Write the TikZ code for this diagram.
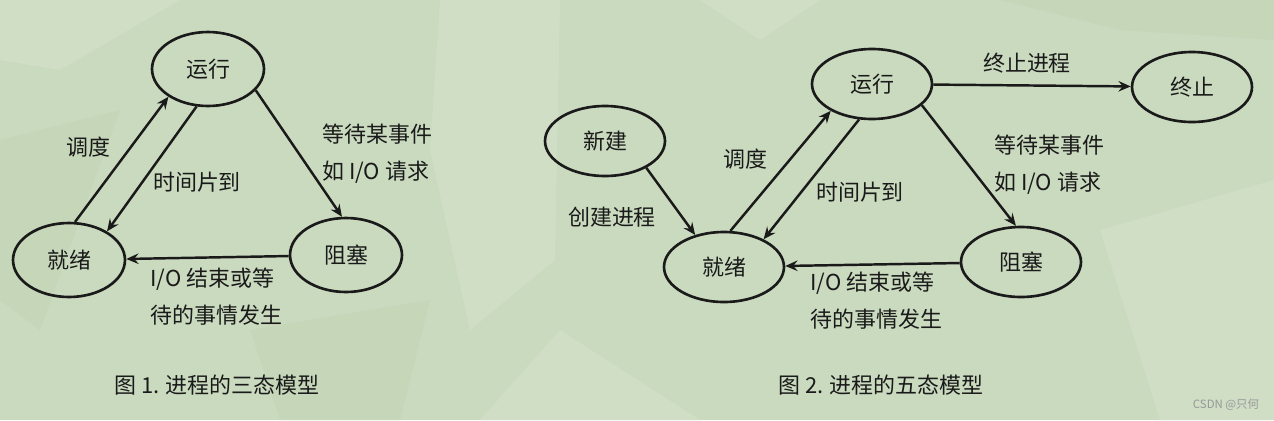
\documentclass[tikz,border=0pt]{standalone}
\usepackage{fontspec}
\setmainfont{Noto Sans CJK SC}
\usetikzlibrary{shapes.geometric,arrows.meta}

\definecolor{bgbase}{HTML}{CADABF}
\definecolor{bglight}{HTML}{CFDEC5}
\definecolor{bgdark}{HTML}{C5D6B9}
\definecolor{ink}{HTML}{1A1A1A}

\begin{document}
\begin{tikzpicture}[x=0.02cm, y=-0.02cm,
    every node/.style={text=ink, font=\fontsize{12.5}{21}\selectfont},
    stateA/.style={draw=ink, ellipse, line width=1.5pt, inner sep=0pt, minimum width=2.24cm, minimum height=1.48cm},
    stateB/.style={draw=ink, ellipse, line width=1.5pt, inner sep=0pt, minimum width=2.4cm, minimum height=1.4cm},
    arr/.style={draw=ink, line width=1.4pt, -{Stealth[length=7pt,width=6pt,inset=2.5pt]}},
    lab/.style={align=left, anchor=west}]
    \fill[bgbase] (0,0) rectangle (1274,420);
    \useasboundingbox (0,0) rectangle (1274,420);
    \fill[bglight] (0,0) -- (180,0) -- (60,70) -- (0,60) -- cycle;
    \fill[bglight] (440,0) -- (560,0) -- (555,260) -- (470,330) -- (430,150) -- cycle;
    \fill[bgdark] (0,140) -- (120,110) -- (40,330) -- (0,300) -- cycle;
    \fill[bglight] (560,330) -- (700,420) -- (480,420) -- cycle;
    \fill[bgdark] (1000,0) -- (1274,0) -- (1274,40) -- (1120,30) -- cycle;
    \fill[bglight] (1100,230) -- (1274,180) -- (1274,420) -- (1160,420) -- cycle;
    \fill[bgdark] (250,330) -- (430,300) -- (400,420) -- (280,420) -- cycle;
    \fill[bglight] (700,0) -- (820,0) -- (760,40) -- cycle;

    \node (runA) at (208,69) [stateA] {运行};
    \node (readyA) at (69,260) [stateA] {就绪};
    \node (blockA) at (346,255) [stateA] {阻塞};

    \draw[arr] (readyA.81) -- (runA.215);
    \draw[arr] (runA.253) -- (readyA.37);
    \draw[arr] (runA.336) -- (blockA.96);
    \draw[arr] (blockA) -- (readyA);

    \node (schedA) at (88,147) {调度};
    \node (sliceA) at (197,182) {时间片到};
    \node (waitA) at (316,154) [lab] {等待某事件\\如 I/O 请求};
    \node (doneA) at (144,297) [lab] {I/O 结束或等\\待的事情发生};
    \node (capA) at (217,385) {图 1. 进程的三态模型};

    \node (newB) at (605,141) [stateB] {新建};
    \node (runB) at (872,84) [stateB] {运行};
    \node (readyB) at (724,267) [stateB] {就绪};
    \node (blockB) at (1021,262) [stateB] {阻塞};
    \node (endB) at (1192,87) [stateB] {终止};

    \draw[arr] (newB.-33) -- (readyB.132);
    \draw[arr] (readyB.80) -- (runB.213);
    \draw[arr] (runB.250) -- (readyB.35);
    \draw[arr] (runB.-23) -- (blockB.98);
    \draw[arr] (runB) -- (endB);
    \draw[arr] (blockB) -- (readyB);

    \node (createB) at (612,217) {创建进程};
    \node (schedB) at (745,159) {调度};
    \node (sliceB) at (860,192) {时间片到};
    \node (killB) at (1027,63) {终止进程};
    \node (waitB) at (988,165) [lab] {等待某事件\\如 I/O 请求};
    \node (doneB) at (804,301) [lab] {I/O 结束或等\\待的事情发生};
    \node (capB) at (881,385) {图 2. 进程的五态模型};

    \node (mark) at (1226,405) [text=white!55!ink, font=\fontsize{6.5}{8}\selectfont] {CSDN @只何};
\end{tikzpicture}
\end{document}
